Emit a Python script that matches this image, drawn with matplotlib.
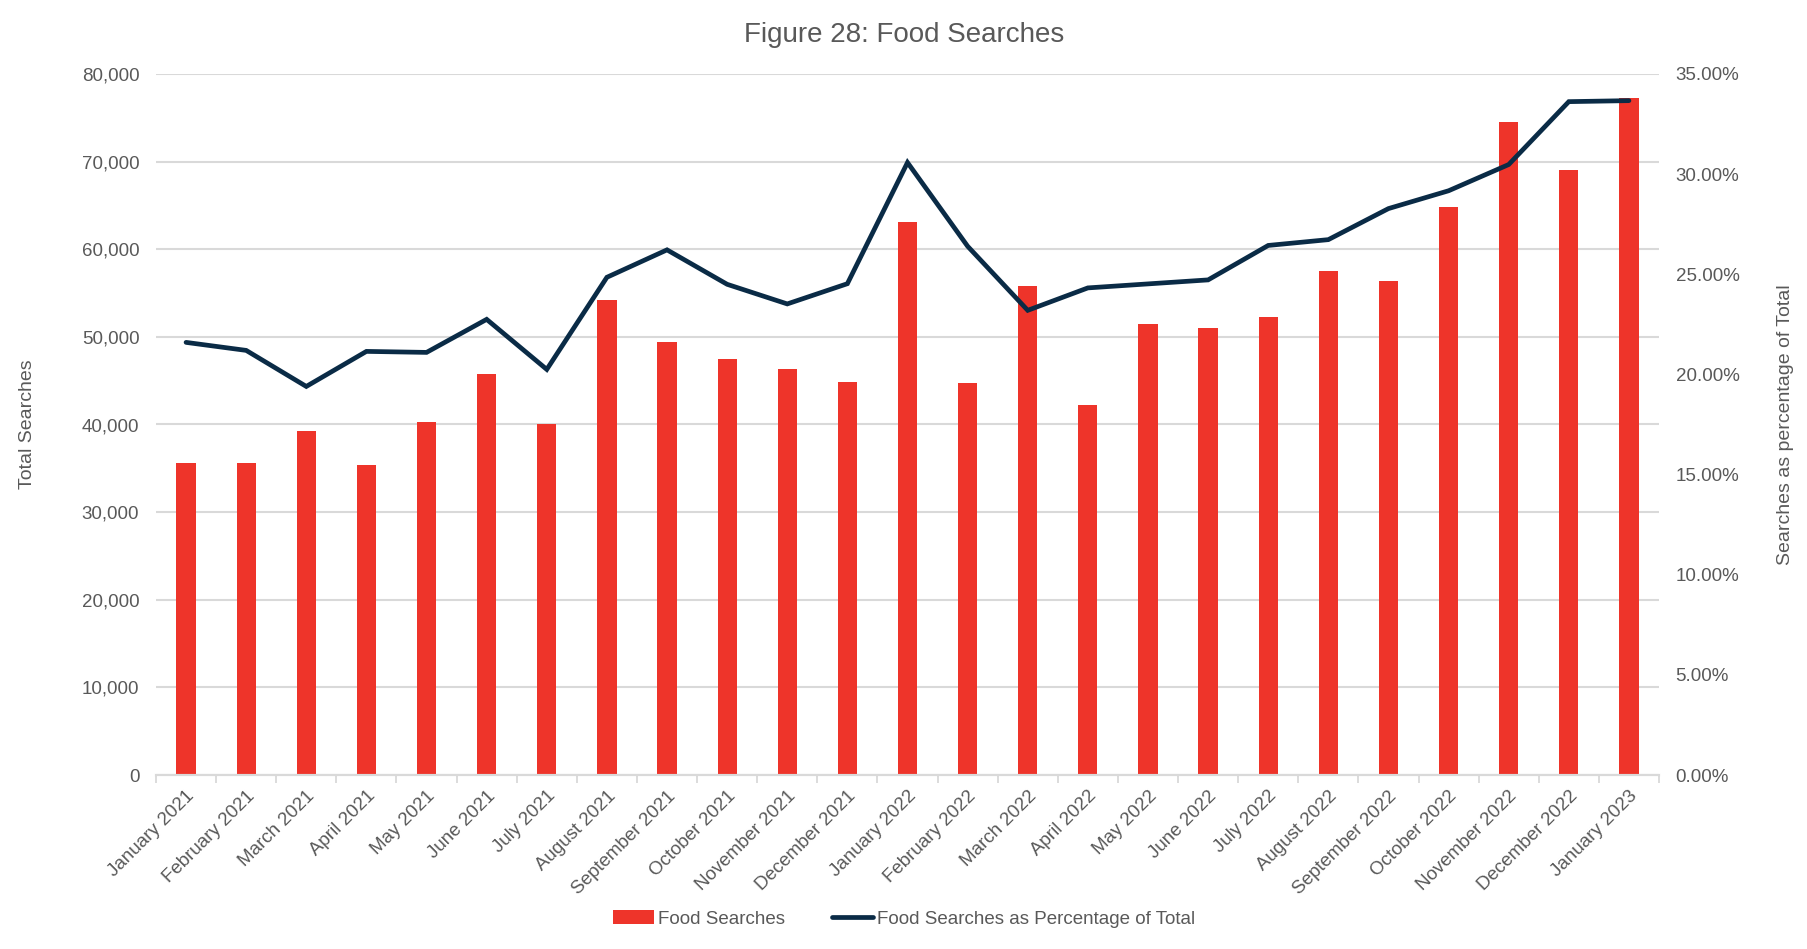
import matplotlib
matplotlib.use("Agg")
import matplotlib.pyplot as plt
import numpy as np
from matplotlib.ticker import FuncFormatter, FixedLocator

plt.rcParams['font.family'] = ['Liberation Sans', 'DejaVu Sans']

months = ["January 2021", "February 2021", "March 2021", "April 2021", "May 2021",
          "June 2021", "July 2021", "August 2021", "September 2021", "October 2021",
          "November 2021", "December 2021", "January 2022", "February 2022", "March 2022",
          "April 2022", "May 2022", "June 2022", "July 2022", "August 2022",
          "September 2022", "October 2022", "November 2022", "December 2022", "January 2023"]
food_searches = [35650, 35650, 39300, 35400, 40300, 45800, 40100, 54200, 49450, 47500,
                 46350, 44900, 63100, 44750, 55850, 42250, 51450, 51050, 52300, 57550,
                 56350, 64850, 74550, 69050, 77300]
pct_of_total = [21.6, 21.2, 19.4, 21.15, 21.1, 22.75, 20.25, 24.85, 26.22, 24.5,
                23.52, 24.53, 30.58, 26.4, 23.2, 24.32, 24.52, 24.72, 26.44, 26.73,
                28.28, 29.17, 30.48, 33.62, 33.67]

txt = '#595959'
grid = '#d9d9d9'
red = '#ee342a'
navy = '#0a2b46'

fig = plt.figure(figsize=(18.08, 9.49), dpi=100)
ax = fig.add_axes([156/1808, 1-775/949, (1659-156)/1808, (775-74)/949])
ax2 = ax.twinx()

x = np.arange(len(months))
ax.bar(x, food_searches, width=0.32, color=red, label="Food Searches", zorder=2)
ax2.plot(x, pct_of_total, color=navy, lw=3.4, solid_capstyle='round',
         solid_joinstyle='miter', label="Food Searches as Percentage of Total", zorder=3)

ax.set_xlim(-0.5, len(months) - 0.5)
ax.set_ylim(0, 80000)
ax2.set_ylim(0, 35)
ax.set_yticks(np.arange(0, 80001, 10000))
ax2.set_yticks(np.arange(0, 35.01, 5))
ax.yaxis.set_major_formatter(FuncFormatter(lambda v, p: f"{int(v):,}"))
ax2.yaxis.set_major_formatter(FuncFormatter(lambda v, p: f"{v:.2f}%"))

ax.set_xticks(x)
ax.set_xticklabels(months, rotation=45, ha='right', rotation_mode='anchor')
ax.xaxis.set_minor_locator(FixedLocator(np.arange(-0.5, len(months), 1)))
ax.tick_params(axis='x', which='major', length=0, pad=9, labelsize=13.5, labelcolor=txt)
ax.tick_params(axis='x', which='minor', length=6, width=1.3, color=grid)
ax.tick_params(axis='y', length=0, pad=12, labelsize=13.5, labelcolor=txt)
ax2.tick_params(axis='y', length=0, pad=12, labelsize=13.5, labelcolor=txt)

ax.grid(axis='y', color=grid, lw=1.5, zorder=0)
ax.set_axisbelow(True)
for a in (ax, ax2):
    for s in ['top', 'left', 'right']:
        a.spines[s].set_visible(False)
    a.spines['bottom'].set_color(grid)
    a.spines['bottom'].set_linewidth(1.5)

ax.set_ylabel("Total Searches", fontsize=14, color=txt)
ax.yaxis.set_label_coords((36 - 156) / (1659 - 156), 0.5)
ax2.set_ylabel("Searches as percentage of Total", fontsize=14, color=txt, rotation=90)
ax2.yaxis.set_label_coords((1777 - 156) / (1659 - 156), 0.5)

fig.suptitle("Figure 28: Food Searches", fontsize=20, color=txt, y=0.977)

h1, l1 = ax.get_legend_handles_labels()
h2, l2 = ax2.get_legend_handles_labels()
fig.legend(h1 + h2, l1 + l2, loc='center', bbox_to_anchor=(0.5, 1 - 919/949),
           ncol=2, frameon=False, fontsize=13.5, labelcolor=txt,
           handlelength=2.2, handletextpad=0.2, columnspacing=2.5)

fig.savefig("out.png", dpi=100)
